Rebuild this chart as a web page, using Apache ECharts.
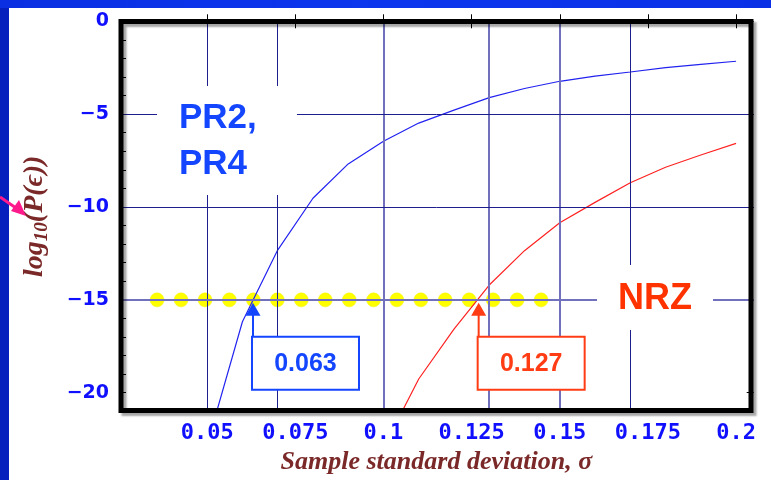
<!DOCTYPE html>
<html>
<head>
<meta charset="utf-8">
<script src="https://cdn.jsdelivr.net/npm/echarts@6/dist/echarts.min.js"></script>
<style>
  html, body { margin: 0; padding: 0; background: #ffffff; }
  #chart { width: 771px; height: 480px; }
</style>
</head>
<body>
<div id="chart"></div>
<script>
// Error probability (log10) versus sample standard deviation
const sigmaPR  = [0.05, 0.06, 0.07, 0.08, 0.09, 0.10, 0.11, 0.12, 0.13, 0.14, 0.15, 0.16, 0.17, 0.18, 0.19, 0.20];
const logErrPR = [-22.8, -16.18, -12.32, -9.53, -7.68, -6.46, -5.48, -4.78, -4.11, -3.62, -3.23, -2.95, -2.73, -2.49, -2.32, -2.15];

const sigmaNRZ  = [0.10, 0.11, 0.12, 0.13, 0.14, 0.15, 0.16, 0.17, 0.18, 0.19, 0.20];
const logErrNRZ = [-22.97, -19.26, -16.58, -14.2, -12.35, -10.85, -9.75, -8.69, -7.86, -7.2, -6.57];

// Target error floor, marked with a dotted guide
const floorLevel = -15;
const floorSigma = [0.0358, 0.0426, 0.0494, 0.0563, 0.0631, 0.0699, 0.0767, 0.0835, 0.0903,
                    0.0972, 0.1038, 0.1106, 0.1175, 0.1243, 0.1311, 0.1379, 0.1447];

// Sigma at which each scheme reaches the floor
const crossSigma = [0.063, 0.127];

// Axis ticks and grid lines
const xTicks = [0.05, 0.075, 0.1, 0.125, 0.15, 0.175, 0.2];
const yTicks = [0, -5, -10, -15, -20];
const xGrid  = [0.05, 0.075, 0.1, 0.125, 0.15, 0.175];
const yGrid  = [-5, -10, -15];

const softX = new Set([0.1, 0.125, 0.15]);
const softY = new Set([-15]);
const darkGrid = { color: '#1e1e8e', width: 1, type: 'solid' };
const softGrid = { color: '#7070bc', width: 2, type: 'solid' };

const BLUE_TXT = '#1010ff';
const BROWN = '#7a2828';
const ANN = ['#1446ff', '#ff3c14'];

const chart = echarts.init(document.getElementById('chart'), null, { renderer: 'canvas' });

const tickFont = { fontFamily: 'DejaVu Sans Mono', fontWeight: 'bold', fontSize: 22, color: BLUE_TXT };
const titleFont = { fontFamily: 'Liberation Serif', fontStyle: 'italic', fontWeight: 'bold', color: BROWN };

chart.setOption({
  animation: false,
  backgroundColor: '#ffffff',
  grid: { left: 119, right: 17.3, top: 21.3, bottom: 68.7, containLabel: false, outerBoundsMode: 'none' },
  xAxis: [
    {
      type: 'value', position: 'bottom', min: 0.025, max: 0.205,
      axisLine: { show: false },
      splitLine: { show: false },
      axisTick: { show: true, inside: true, length: 7, customValues: xTicks, lineStyle: { color: '#000', width: 1 } },
      axisLabel: Object.assign({ customValues: xTicks, margin: 11, formatter: v => String(+(+v).toFixed(3)) }, tickFont),
      name: 'Sample standard deviation, σ',
      nameLocation: 'middle',
      nameGap: 38,
      nameTextStyle: Object.assign({ fontSize: 26 }, titleFont)
    },
    {
      type: 'value', position: 'top', min: 0.025, max: 0.205,
      axisLine: { show: false }, splitLine: { show: false },
      axisTick: { show: true, inside: true, length: 7, customValues: xTicks, lineStyle: { color: '#000', width: 1 } },
      axisLabel: { show: false }
    }
  ],
  yAxis: [
    {
      type: 'value', position: 'left', min: -21, max: 0, interval: 1,
      axisLine: { show: false }, splitLine: { show: false },
      axisTick: { show: true, inside: true, length: 7, lineStyle: { color: '#000', width: 1 } },
      axisLabel: {
        customValues: yTicks, margin: 10,
        fontFamily: 'DejaVu Sans', fontWeight: 'bold', fontSize: 19, color: BLUE_TXT,
        formatter: v => (v < 0 ? '\u2212' + Math.abs(v) : String(v))
      },
      name: '{a|log}{s|10}{a|(P(\u03f5))}',
      nameLocation: 'middle',
      nameRotate: 90,
      nameGap: 67,
      nameTextStyle: {
        rich: {
          a: Object.assign({ fontSize: 28, lineHeight: 34 }, titleFont),
          s: Object.assign({ fontSize: 19, lineHeight: 19, verticalAlign: 'bottom' }, titleFont)
        }
      }
    },
    {
      type: 'value', position: 'right', min: -21, max: 0, interval: 1,
      axisLine: { show: false }, splitLine: { show: false },
      axisTick: { show: true, inside: true, length: 7, customValues: yTicks, lineStyle: { color: '#000', width: 1 } },
      axisLabel: { show: false }
    }
  ],
  series: [
    {
      // grid lines
      type: 'line', data: [], z: 1, silent: true,
      markLine: {
        silent: true, symbol: 'none', label: { show: false }, animation: false,
        data: xGrid.map(v => ({ xAxis: v, lineStyle: softX.has(v) ? softGrid : darkGrid }))
          .concat(yGrid.map(v => ({ yAxis: v, lineStyle: softY.has(v) ? softGrid : darkGrid })))
      }
    },
    {
      name: 'floor', type: 'scatter', z: 3, symbol: 'circle', symbolSize: 14,
      itemStyle: { color: '#ffff00', opacity: 1, borderColor: '#f4f400', borderWidth: 0.5 },
      data: floorSigma.map(s => [s, floorLevel])
    },
    {
      name: 'PR2, PR4', type: 'line', z: 4, symbol: 'none', smooth: false,
      lineStyle: { color: '#2222f0', width: 1.2 },
      data: sigmaPR.map((s, i) => [s, logErrPR[i]])
    },
    {
      name: 'NRZ', type: 'line', z: 4, symbol: 'none', smooth: false,
      lineStyle: { color: '#ff2222', width: 1.2 },
      data: sigmaNRZ.map((s, i) => [s, logErrNRZ[i]])
    }
  ]
});

// Decorations and annotations
const toPx = v => chart.convertToPixel({ xAxisIndex: 0, yAxisIndex: 0 }, v);
const g = [];

// slide background bands
g.push({ type: 'rect', z: 0, shape: { x: 0, y: 0, width: 9, height: 480 }, style: { fill: '#0620bd' } });
g.push({ type: 'rect', z: 0, shape: { x: 0, y: 0, width: 771, height: 8 },
  style: { fill: new echarts.graphic.LinearGradient(0, 0, 1, 0, [
    { offset: 0, color: '#0a2fe2' }, { offset: 0.5, color: '#0b36ee' }, { offset: 1, color: '#0a30e6' }]) } });

// pointer to the axis title
g.push({ type: 'line', z: 70, shape: { x1: 0, y1: 197, x2: 16, y2: 208 }, style: { stroke: '#ff1a8c', lineWidth: 3 } });
g.push({ type: 'polygon', z: 70, shape: { points: [[26, 216], [11, 211], [19, 200]] }, style: { fill: '#ff1a8c' } });

// curve name labels on white backing
g.push({ type: 'rect', z: 40, shape: { x: 157, y: 86, width: 140, height: 109 }, style: { fill: '#ffffff' } });
g.push({ type: 'text', z: 41, x: 179, y: 95.6,
  style: { text: 'PR2,\nPR4', fill: '#1446ff', font: 'bold 35px "Liberation Sans"', lineHeight: 46,
           align: 'left', verticalAlign: 'top', textAlign: 'left', textVerticalAlign: 'top' } });
g.push({ type: 'rect', z: 40, shape: { x: 597, y: 265, width: 116, height: 65 }, style: { fill: '#ffffff' } });
g.push({ type: 'text', z: 41, x: 618, y: 281,
  style: { text: 'NRZ', fill: '#ff3300', font: 'bold 36px "Liberation Sans"', lineHeight: 36,
           align: 'left', verticalAlign: 'top', textAlign: 'left', textVerticalAlign: 'top' } });

// arrows and value boxes at the floor crossings
crossSigma.forEach((s, i) => {
  const [px, py] = toPx([s, floorLevel]);
  const c = ANN[i];
  const bx = px - 1, by = py + 37, bw = 107, bh = 53;
  g.push({ type: 'polygon', z: 50, shape: { points: [[px, py + 3], [px - 7.5, py + 16], [px + 7.5, py + 16]] }, style: { fill: c } });
  g.push({ type: 'line', z: 50, shape: { x1: px, y1: py + 15, x2: px, y2: by }, style: { stroke: c, lineWidth: 2 } });
  g.push({ type: 'rect', z: 50, shape: { x: bx, y: by, width: bw, height: bh }, style: { fill: '#ffffff', stroke: c, lineWidth: 2 } });
  g.push({ type: 'text', z: 51, x: bx + bw / 2, y: by + bh / 2 + 1,
    style: { text: s.toFixed(3), fill: c, font: 'bold 25px "Liberation Sans"',
             align: 'center', verticalAlign: 'middle', textAlign: 'center', textVerticalAlign: 'middle' } });
});

// heavy plot frame with a soft shadow
g.push({ type: 'rect', z: 60, shape: { x: 121, y: 21.5, width: 630, height: 389 },
  style: { fill: 'none', stroke: '#000000', lineWidth: 5,
           shadowColor: 'rgba(0,0,0,0.35)', shadowOffsetX: 3, shadowOffsetY: 3, shadowBlur: 2 } });

chart.setOption({ graphic: { elements: g } });
</script>
</body>
</html>
